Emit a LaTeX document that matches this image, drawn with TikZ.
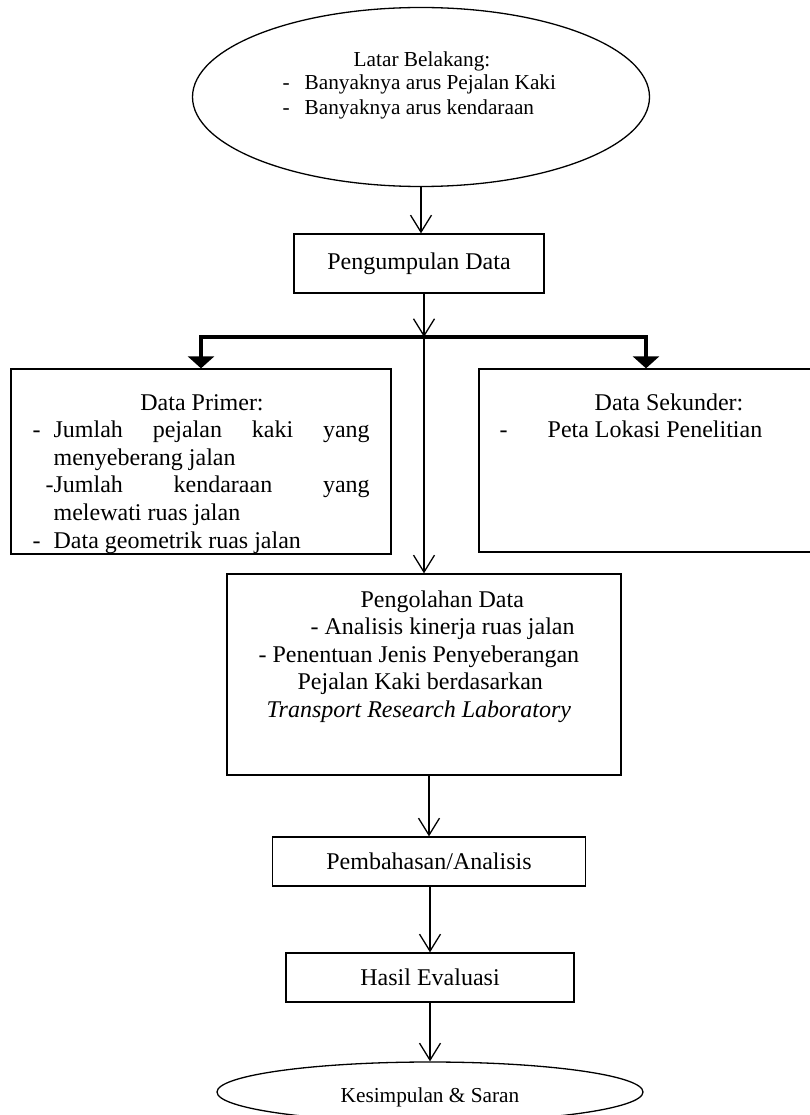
\documentclass[tikz,border=0pt]{standalone}
\usepackage{fontspec}
\setmainfont{Liberation Serif}
\usetikzlibrary{arrows.meta,shapes.geometric}

\tikzset{
  box/.style={draw, rectangle, inner sep=0pt},
  oval/.style={draw, ellipse, inner sep=0pt},
  ln/.style={inner sep=0pt, anchor=base west},
  lnc/.style={inner sep=0pt, anchor=base},
  big/.style={font=\fontsize{24}{27.6}\selectfont},
  sml/.style={font=\fontsize{21.3}{24.5}\selectfont},
  flow/.style={-{Straight Barb[length=17pt,width=21pt]}},
  fork/.style={line width=3.5pt, -{Triangle[length=12pt,width=26pt]}}
}

\begin{document}
\begin{tikzpicture}[x=1pt, y=-1pt, line width=1.3pt]
      \useasboundingbox (0,0) rectangle (810,1115);
      \clip (0,0) rectangle (810,1115);

      \node[oval, minimum width=457pt, minimum height=179pt](lb) at (421, 97) {};
      \node[lnc, sml](lb0) at (422, 67)  {Latar Belakang:};
      \node[ln, sml](lb1)  at (282, 90)  {-};
      \node[ln, sml](lb1t) at (304, 90)  {Banyaknya arus Pejalan Kaki};
      \node[ln, sml](lb2)  at (282, 115) {-};
      \node[ln, sml](lb2t) at (304, 115) {Banyaknya arus kendaraan};

      \node[box, big, minimum width=250pt, minimum height=59pt](pk) at (419, 263.5) {Pengumpulan Data};
      \coordinate (j) at (424, 337);

      \node[box, minimum width=380pt, minimum height=185pt](dp) at (201, 461.5) {};
      \node[lnc, big](dp0) at (202, 410)   {Data Primer:};
      \node[ln, big](dp1)  at (32, 437.6)  {-};
      \node[ln, big](dp1t) at (53, 437.6)  {\makebox[316pt][s]{Jumlah pejalan kaki yang}};
      \node[ln, big](dp2t) at (53, 465.2)  {menyeberang jalan};
      \node[ln, big](dp3)  at (45, 492.8)  {-};
      \node[ln, big](dp3t) at (53, 492.8)  {\makebox[316pt][s]{Jumlah kendaraan yang}};
      \node[ln, big](dp4t) at (53, 520.4)  {melewati ruas jalan};
      \node[ln, big](dp5)  at (32, 548)    {-};
      \node[ln, big](dp5t) at (53, 548)    {Data geometrik ruas jalan};

      \node[box, minimum width=334pt, minimum height=183pt](ds) at (646, 460.5) {};
      \node[lnc, big](ds0) at (669, 410)   {Data Sekunder:};
      \node[ln, big](ds1)  at (499, 437.6) {-};
      \node[ln, big](ds1t) at (547, 437.6) {Peta Lokasi Penelitian};

      \node[box, minimum width=394pt, minimum height=201pt](po) at (424, 674.5) {};
      \node[ln, big](po0) at (360, 607)   {Pengolahan Data};
      \node[ln, big](po1) at (310, 634.6) {- Analisis kinerja ruas jalan};
      \node[ln, big](po2) at (258, 662.2) {- Penentuan Jenis Penyeberangan};
      \node[ln, big](po3) at (297, 689.8) {Pejalan Kaki berdasarkan};
      \node[ln, big](po4) at (266, 717.4) {\itshape Transport Research Laboratory};

      \node[box, big, minimum width=313pt, minimum height=49pt](pb) at (429, 861.5) {Pembahasan/Analisis};
      \node[box, big, minimum width=288pt, minimum height=49pt](he) at (430, 977.5) {Hasil Evaluasi};

      \node[oval, minimum width=426pt, minimum height=60pt](ks) at (430, 1092) {};
      \node[lnc, sml](ks0) at (430, 1102) {Kesimpulan \& Saran};

      \draw[flow](lb.south) -- (lb.south |- pk.north);
      \draw[flow](pk.south -| j) -- (j);
      \draw[flow](j) -- (j |- po.north);
      \draw[fork](j) -| (dp.north);
      \draw[fork](j) -| (ds.north);
      \draw[flow](pb.north |- po.south) -- (pb.north);
      \draw[flow](he.north |- pb.south) -- (he.north);
      \draw[flow](ks.north |- he.south) -- (ks.north);
    \end{tikzpicture}
\end{document}
